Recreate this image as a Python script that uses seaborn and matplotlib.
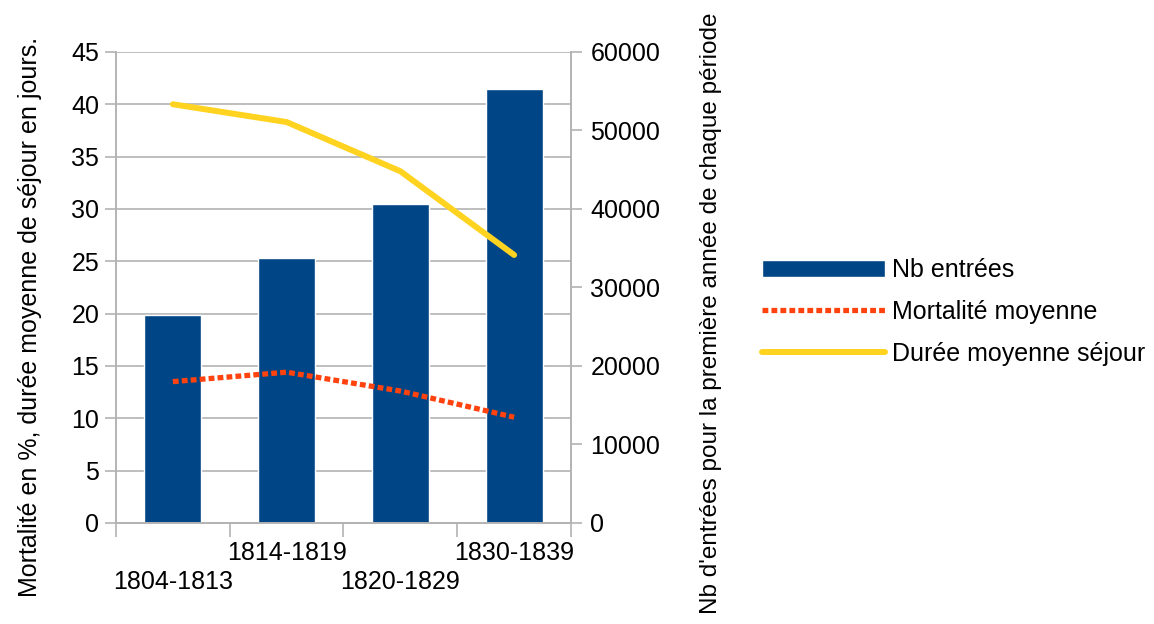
import numpy as np
import seaborn as sns
import matplotlib
matplotlib.use("Agg")
import matplotlib.pyplot as plt
from matplotlib.ticker import MultipleLocator, StrMethodFormatter

# data
periodes = ["1804-1813", "1814-1819", "1820-1829", "1830-1839"]
nb_entrees = [26450, 33750, 40600, 55300]
mortalite = [13.5, 14.4, 12.6, 10.1]
duree_sejour = [40.0, 38.3, 33.6, 25.6]

bar_color = "#004586"
mort_color = "#ff420e"
duree_color = "#ffd320"
grid_color = "#b3b3b3"

sns.set_theme(style="white")
plt.rcParams["font.family"] = ["Liberation Sans", "DejaVu Sans"]
plt.rcParams["text.color"] = "black"
plt.rcParams["axes.labelcolor"] = "black"

fig = plt.figure(figsize=(11.54, 6.24), dpi=100)
ax = fig.add_axes([0.1005, 0.162, 0.3943, 0.7548])
ax2 = ax.twinx()

# bars on the right axis
sns.barplot(x=periodes, y=nb_entrees, ax=ax2, color=bar_color,
            saturation=1, width=0.5, label="Nb entrées")

# lines on the left axis
sns.lineplot(x=periodes, y=mortalite, ax=ax, color=mort_color, lw=3.8,
             sort=False, label="Mortalité moyenne",
             linestyle=(0, (1.1, 0.6)), dash_capstyle="butt")
sns.lineplot(x=periodes, y=duree_sejour, ax=ax, color=duree_color, lw=4.3,
             sort=False, label="Durée moyenne séjour")

# lines above bars
ax.set_zorder(ax2.get_zorder() + 1)
ax.patch.set_visible(False)

ax.set_ylim(0, 45)
ax2.set_ylim(0, 60000)
ax.set_xlim(-0.5, 3.5)
ax.yaxis.set_major_locator(MultipleLocator(5))
ax2.yaxis.set_major_locator(MultipleLocator(10000))
ax2.yaxis.set_major_formatter(StrMethodFormatter("{x:.0f}"))

# grid drawn behind bars, at the left axis steps
ax.grid(False)
ax2.grid(False)
ax2.yaxis.set_minor_locator(MultipleLocator(60000 / 9))
ax2.yaxis.remove_overlapping_locs = False
ax2.grid(which="minor", axis="y", color=grid_color, lw=1.2)
ax2.tick_params(axis="y", which="minor", length=0)

# x axis: ticks at category boundaries, staggered labels
ax.set_xticks(np.arange(-0.5, 4, 1))
ax.set_xticklabels([])
ax.set_xticks(range(len(periodes)), minor=True)
stag = ["\n" + p if i % 2 == 0 else p + "\n" for i, p in enumerate(periodes)]
ax.set_xticklabels(stag, minor=True, fontsize=18, linespacing=1.25)
ax.tick_params(axis="x", which="major", direction="out", length=10,
               width=1.2, color=grid_color, bottom=True)
ax.tick_params(axis="x", which="minor", length=0, pad=13,
               labelcolor="black")

ax.tick_params(axis="y", direction="out", length=8, width=1.2,
               color=grid_color, labelsize=18, left=True, pad=4,
               labelcolor="black")
ax2.tick_params(axis="y", which="major", direction="out", length=8,
                width=1.2, color=grid_color, labelsize=18, right=True, pad=6,
                labelcolor="black")

for a in (ax, ax2):
    for side, sp in a.spines.items():
        sp.set_color(grid_color)
        sp.set_linewidth(1.2)
    a.spines["top"].set_visible(False)

ax.set_xlabel("")
ax.set_ylabel("Mortalité en %, durée moyenne de séjour en jours.",
              fontsize=18)
ax.yaxis.set_label_coords(-0.163, 0.437)
ax2.set_ylabel("Nb d'entrées pour la première année de chaque période",
               fontsize=17.5)
ax2.yaxis.set_label_coords(1.283, 0.445)

# legend gathered from both axes
h1, l1 = ax2.get_legend_handles_labels()
h2, l2 = ax.get_legend_handles_labels()
if ax.get_legend():
    ax.get_legend().remove()
if ax2.get_legend():
    ax2.get_legend().remove()
fig.legend(h1 + h2, l1 + l2, loc="center left",
           bbox_to_anchor=(762 / 1154, (624 - 312) / 624),
           frameon=False, fontsize=18, handlelength=4.9,
           handletextpad=0.3, labelspacing=0.72, borderpad=0,
           borderaxespad=0)

fig.savefig("out.png", dpi=100)
